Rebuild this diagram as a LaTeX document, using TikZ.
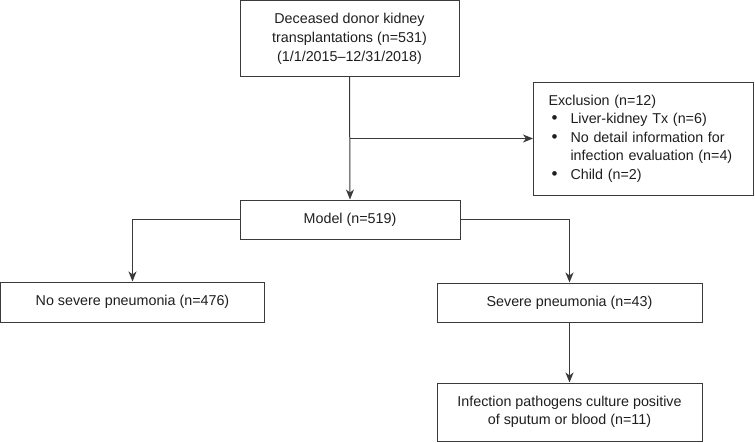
\documentclass[tikz,border=0pt]{standalone}
\usepackage{fontspec}
\setmainfont{Liberation Sans}
\usetikzlibrary{arrows.meta}
\definecolor{linec}{HTML}{3A3A3A}
\definecolor{textc}{HTML}{1E1E1E}
\newcommand{\blt}{\hspace{3pt}{\fontsize{17}{18.5}\selectfont •}}
\begin{document}
\begin{tikzpicture}[x=1pt,y=-1pt,
  box/.style={draw=linec,line width=1pt,text=textc,inner sep=0pt,align=center,
    font=\fontsize{14.3}{18.5}\selectfont},
  conn/.style={draw=linec,line width=1pt},
  arr/.style={conn,-{Stealth[length=10pt,width=8pt,inset=3pt]}}]
\useasboundingbox (0,0) rectangle (755,442);
\node[box,minimum width=219pt,minimum height=76pt,font=\fontsize{14.3}{19}\selectfont] (top) at (349.5,38.5)
  {Deceased donor kidney\\transplantations (n=531)\\(1/1/2015--12/31/2018)};
\node[box,minimum width=220pt,minimum height=113pt,inner xsep=15pt,text width=190pt,align=left] (excl) at (643.5,138.5)
  {\begin{tabular}{@{}p{22pt}@{}l@{}}
   \multicolumn{2}{@{}l@{}}{Exclusion (n=12)}\\
   \blt & Liver-kidney Tx (n=6)\\
   \blt & No detail information for\\
    & infection evaluation (n=4)\\
   \blt & Child (n=2)
   \end{tabular}};
\node[box,minimum width=220pt,minimum height=39pt] (model) at (350,219.5) {Model (n=519)};
\node[box,minimum width=264pt,minimum height=40pt] (no) at (132.5,302) {No severe pneumonia (n=476)};
\node[box,minimum width=265pt,minimum height=39pt] (sev) at (569.5,302.5) {Severe pneumonia (n=43)};
\node[box,minimum width=265pt,minimum height=58pt] (inf) at (569.5,412)
  {Infection pathogens culture positive\\of sputum or blood (n=11)};
\coordinate (br) at (top.south |- excl.west);
\draw[arr] (top.south) -- (model.north);
\draw[arr] (br) -- (excl.west);
\draw[arr] (model.west) -| (no.north);
\draw[arr] (model.east) -| (sev.north);
\draw[arr] (sev.south) -- (inf.north);
\end{tikzpicture}
\end{document}
